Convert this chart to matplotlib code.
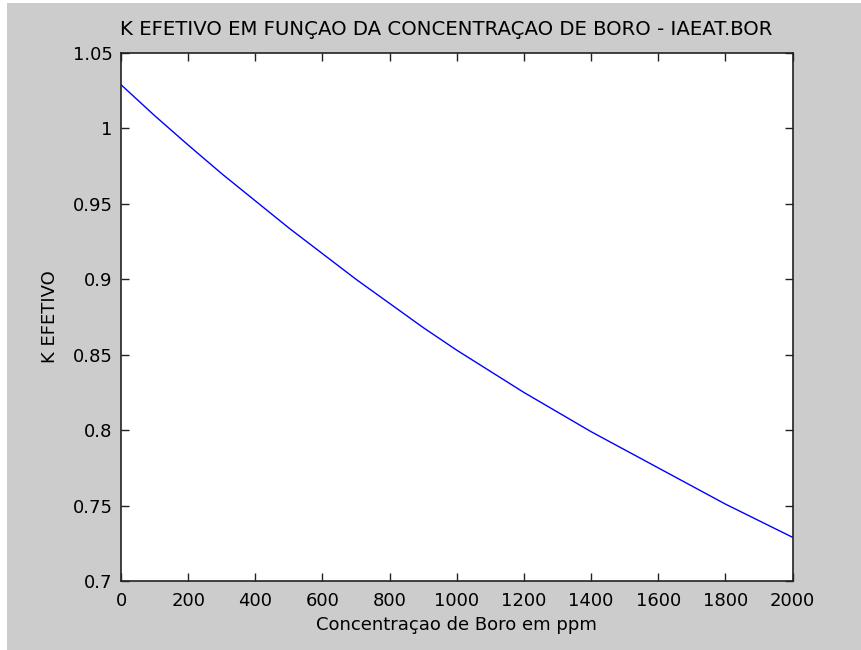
import matplotlib.pyplot as plt
from matplotlib.patches import Rectangle

# boron concentration (ppm) and k-effective
boro_ppm = [0, 100, 200, 300, 400, 500, 600, 700, 800, 900, 1000,
            1100, 1200, 1300, 1400, 1500, 1600, 1700, 1800, 1900, 2000]
k_efetivo = [1.029, 1.0085, 0.989, 0.970, 0.952, 0.934, 0.917, 0.900, 0.884, 0.868, 0.853,
             0.839, 0.825, 0.812, 0.799, 0.787, 0.775, 0.763, 0.751, 0.740, 0.729]

x_ticks = [0, 200, 400, 600, 800, 1000, 1200, 1400, 1600, 1800, 2000]
y_ticks = [0.7, 0.75, 0.8, 0.85, 0.9, 0.95, 1.0, 1.05]
y_labels = ['0.7', '0.75', '0.8', '0.85', '0.9', '0.95', '1', '1.05']

plt.rcParams['font.family'] = ['DejaVu Sans']
plt.rcParams['font.size'] = 13

fig = plt.figure(figsize=(8.61, 6.5), dpi=100, facecolor='white')
# gray window area (thin white strip on left and top like the screenshot)
fig.patches.append(Rectangle((7 / 861, 0), 1, 1 - 3 / 650, transform=fig.transFigure,
                             facecolor='#cccccc', edgecolor='none', zorder=-10))

ax = fig.add_axes([121 / 861, 69 / 650, 671.5 / 861, 528 / 650])
ax.plot(boro_ppm, k_efetivo, color='#0000ff', linewidth=1.0)

ax.set_xlim(0, 2000)
ax.set_ylim(0.7, 1.05)
ax.set_xticks(x_ticks)
ax.set_xticklabels([str(t) for t in x_ticks])
ax.set_yticks(y_ticks)
ax.set_yticklabels(y_labels)
ax.tick_params(direction='in', length=6, width=1, color='#222222',
               top=True, right=True, labelsize=13)
ax.tick_params(axis='x', pad=8)
ax.tick_params(axis='y', pad=6)
for s in ax.spines.values():
    s.set_linewidth(1.2)
    s.set_color('#222222')

ax.set_title('K EFETIVO EM FUNÇAO DA CONCENTRAÇAO DE BORO - IAEAT.BOR', fontsize=14.2, pad=13, x=0.485)
ax.set_xlabel('Concentraçao de Boro em ppm', fontsize=13, labelpad=4)
ax.set_ylabel('K EFETIVO', fontsize=13, labelpad=10)

fig.savefig('out.png', dpi=100, facecolor=fig.get_facecolor())
